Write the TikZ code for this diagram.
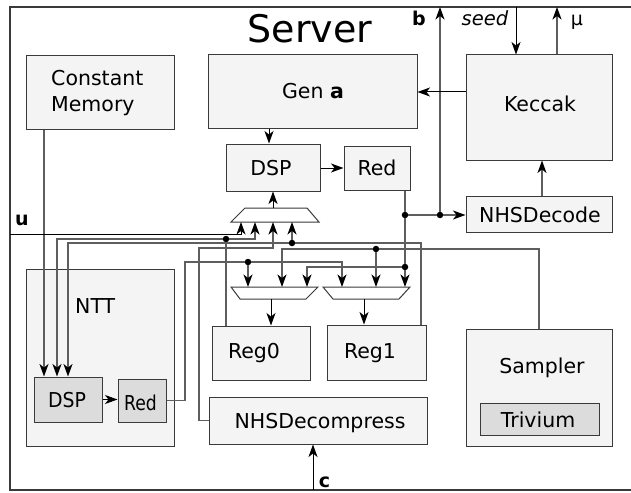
\documentclass[tikz,border=0pt]{standalone}
\usepackage{fontspec}
\setmainfont{DejaVu Sans}
\usetikzlibrary{arrows.meta}
\definecolor{boxfill}{HTML}{F4F4F4}
\definecolor{subfill}{HTML}{DCDCDC}
\definecolor{edge}{HTML}{3A3A3A}
\definecolor{wirec}{HTML}{5E5E5E}

\begin{document}
\begin{tikzpicture}[x=1pt,y=-1pt,
  box/.style={draw=edge, line width=1pt, fill=boxfill, inner sep=0pt},
  subbox/.style={box, fill=subfill},
  lbl/.style={anchor=base, inner sep=0pt, font=\fontsize{20.5}{24}\selectfont},
  io/.style={anchor=base, inner sep=0pt, font=\fontsize{19}{22}\selectfont},
  wire/.style={draw=wirec, line width=1.3pt},
  bwire/.style={draw=black, line width=1pt},
  arr/.style={-{Stealth[length=12.5pt,width=9pt,inset=3.5pt,color=black]}},
  dot/.style={circle, fill=black, inner sep=0pt, minimum size=6.5pt},
  mux/.style={draw=edge, line width=1pt, fill=white},
]
\useasboundingbox (0,0) rectangle (631,492);

% outer frame of the server
\draw[draw=edge, line width=1.6pt, fill=white] (10,7) rectangle (645,490);
\node[anchor=base, inner sep=0pt, font=\fontsize{38}{44}\selectfont] (title) at (310,43) {Server};

% blocks
\node[box, minimum width=148pt, minimum height=73pt] (cm) at (100,92.5) {};
\node[box, minimum width=209pt, minimum height=73pt] (gen) at (312.5,91.5) {};
\node[box, minimum width=146pt, minimum height=105pt] (kec) at (539,107.5) {};
\node[box, minimum width=94pt, minimum height=47pt] (dsp) at (273,167.5) {};
\node[box, minimum width=66pt, minimum height=44pt] (red) at (377,168) {};
\node[box, minimum width=146pt, minimum height=36pt] (dec) at (539,214) {};
\node[box, minimum width=148pt, minimum height=177pt] (ntt) at (100,357.5) {};
\node[subbox, minimum width=68pt, minimum height=45pt] (ndsp) at (68,399.5) {};
\node[subbox, minimum width=48pt, minimum height=43pt] (nred) at (142,400.5) {};
\node[box, minimum width=98pt, minimum height=54pt] (reg0) at (261,353) {};
\node[box, minimum width=99pt, minimum height=55pt] (reg1) at (376.5,352.5) {};
\node[box, minimum width=218pt, minimum height=47pt] (dcmp) at (318,420.5) {};
\node[box, minimum width=146pt, minimum height=117pt] (smp) at (539,387.5) {};
\node[subbox, minimum width=119pt, minimum height=32pt] (tri) at (539.5,419) {};

% block labels
\node[lbl, anchor=base west] (cmt1) at (51,86) {Constant};
\node[lbl, anchor=base west] (cmt2) at (51,112) {Memory};
\node[lbl] (gent) at (313,99) {Gen \textbf{a}};
\node[lbl] (kect) at (540,112) {Keccak};
\node[lbl] (dspt) at (271,175) {DSP};
\node[lbl] (redt) at (377,175) {Red};
\node[lbl] (dect) at (540,222) {NHSDecode};
\node[lbl, anchor=base west] (nttt) at (75,313) {NTT};
\node[lbl] (ndspt) at (67,407) {\scalebox{0.92}[1]{DSP}};
\node[lbl] (nredt) at (140.5,410) {\scalebox{0.84}[1]{Red}};
\node[lbl] (reg0t) at (254,358) {Reg0};
\node[lbl] (reg1t) at (370,358) {Reg1};
\node[lbl] (dcmpt) at (320,428) {NHSDecompress};
\node[lbl] (smpt) at (542,373) {Sampler};
\node[lbl] (trit) at (538,427) {Trivium};

% multiplexers
\draw[mux] (245,208) -- (307,208) -- (319,222) -- (231,222) -- cycle;
\coordinate (amuxT) at (273,208);
\coordinate (amuxB) at (273,222);
\draw[mux] (231,287) -- (318,287) -- (306,299) -- (240,299) -- cycle;
\coordinate (bmuxT) at (271,287);
\coordinate (bmuxB) at (271,299);
\draw[mux] (323,287) -- (410,287) -- (399,299) -- (333,299) -- cycle;
\coordinate (cmuxT) at (364,287);
\coordinate (cmuxB) at (364,299);

% external ports
\coordinate (uin) at (10,234);
\coordinate (bout) at (440,7);
\coordinate (seedin) at (516,7);
\coordinate (muout) at (557,7);
\coordinate (cin) at (313,490);
\node[io, font=\fontsize{19}{22}\selectfont\bfseries] (ul) at (22,225) {u};
\node[io, font=\fontsize{19}{22}\selectfont\bfseries] (bl) at (419,26) {b};
\node[io, font=\fontsize{19.5}{22}\selectfont\itshape] (seedl) at (485,26) {seed};
\node[io] (mul) at (577,26) {μ};
\node[io, font=\fontsize{19}{22}\selectfont\bfseries] (cl) at (324.5,487) {c};

% junction dots
\node[dot] (r0j) at (226,239) {};
\node[dot] (r1j) at (292,243) {};
\node[dot] (sj) at (376,249) {};
\node[dot] (nj) at (248,262) {};
\node[dot] (rj1) at (405,215) {};
\node[dot] (bj) at (440,215) {};
\node[dot] (rj2) at (405,267) {};

% constant memory feeds the NTT multiplier
\draw[wire,arr] (cm.south -| 44,0) -- (ndsp.north -| 44,0);

% input u into the operand multiplexer
\draw[bwire,arr] (uin) -| (amuxB -| 241,0);

% Reg0 output
\draw[wire] (reg0.north -| r0j) -- (r0j);
\draw[wire,arr] (r0j) -| (ndsp.north -| 57,0);
\draw[wire,arr] (r0j) -| (amuxB -| 255,0);

% NHSDecompress output
\draw[wire,arr] (dcmp.west) -| (199,248) -| (amuxB -| 273,0);

% Reg1 output
\draw[wire] (reg1.north -| 421,0) |- (r1j);
\draw[wire,arr] (r1j) -- (amuxB -| r1j);
\draw[wire,arr] (r1j) -| (ndsp.north -| 68,0);

% Sampler output
\draw[wire] (smp.north) |- (sj);
\draw[wire,arr] (sj) -- (cmuxT -| sj);
\draw[wire,arr] (sj) -| (bmuxT -| 282,0);

% NTT reduction output
\draw[wire] (nred.east) -| (185,262) -- (nj);
\draw[wire,arr] (nj) -- (bmuxT -| nj);
\draw[wire,arr] (nj) -| (cmuxT -| 342,0);

% reduction output of the main datapath
\draw[wire] (red.south -| rj1) -- (rj1);
\draw[wire] (rj1) -- (bj);
\draw[wire,arr] (bj) -- (dec.west |- bj);
\draw[wire,arr] (bj) -- (bout);
\draw[wire] (rj1) -- (rj2);
\draw[wire,arr] (rj2) -- (cmuxT -| rj2);
\draw[wire,arr] (rj2) -| (bmuxT -| 307,0);

% datapath
\draw[bwire,arr] (gen.south -| 269,0) -- (dsp.north -| 269,0);
\draw[bwire,arr] (dsp.east |- 0,168) -- (red.west |- 0,168);
\draw[bwire,arr] (amuxT) -- (dsp.south -| amuxT);
\draw[bwire,arr] (kec.west |- 0,92) -- (gen.east |- 0,92);
\draw[wire,arr] (dec.north -| 542,0) -- (kec.south -| 542,0);
\draw[bwire,arr] (seedin) -- (kec.north -| seedin);
\draw[wire,arr] (kec.north -| muout) -- (muout);
\draw[bwire,arr] (cin) -- (dcmp.south -| cin);
\draw[bwire,arr] (ndsp.east) -- (nred.west |- ndsp.east);
\draw[bwire,arr] (bmuxB) -- (reg0.north -| bmuxB);
\draw[bwire,arr] (cmuxB) -- (reg1.north -| cmuxB);
\end{tikzpicture}
\end{document}
